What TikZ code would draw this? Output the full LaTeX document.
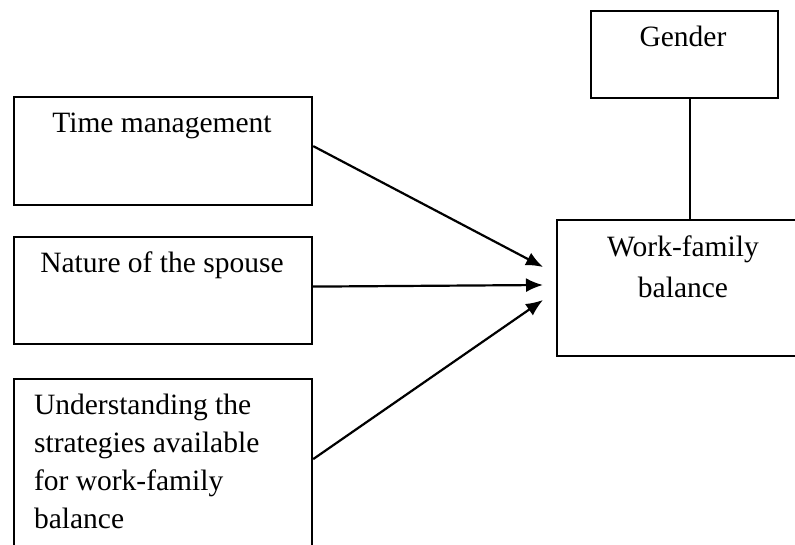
\documentclass[tikz,border=0pt]{standalone}
\usepackage{fontspec}
\setmainfont{Liberation Serif}
\usetikzlibrary{arrows.meta}

\begin{document}
\begin{tikzpicture}[x=1pt, y=-1pt, line width=2.2pt,
  box/.style={draw=black, rectangle, inner sep=0pt, anchor=north west},
  txt/.style={font=\fontsize{29.5}{38}\selectfont, inner sep=0pt, anchor=base},
  >={Latex[length=17pt,width=14pt]}]
\useasboundingbox (0,0) rectangle (795,545);
\clip (0,0) rectangle (795,545);
\node[box, minimum width=298, minimum height=108] (time) at (13,96) {};
\node[box, minimum width=298, minimum height=107] (spouse) at (13,236) {};
\node[box, minimum width=298, minimum height=190] (strat) at (13,378) {};
\node[box, minimum width=187, minimum height=87] (gender) at (590,10) {};
\node[box, minimum width=254, minimum height=136] (wfb) at (556,219) {};
\node[txt] (timetxt) at (162,133) {Time management};
\node[txt] (spousetxt) at (162,273) {Nature of the spouse};
\node[txt, anchor=base west, align=left] (strattxt) at (33,528) {Understanding the\\strategies available\\for work-family\\balance};
\node[txt] (gendertxt) at (683,47) {Gender};
\node[txt, align=center, font=\fontsize{29.5}{41}\selectfont] (wfbtxt) at (683,298) {Work-family\\balance};
\coordinate (in1) at (543,267);
\coordinate (in2) at (543,285);
\coordinate (in3) at (543,300);
\draw[->] ([yshift=5]time.east) -- (in1);
\draw[->] ([yshift=4]spouse.east) -- (in2);
\draw[->] ([yshift=15]strat.east) -- (in3);
\draw ([xshift=5]gender.south) -- ([xshift=5]gender.south |- wfb.north);
\end{tikzpicture}
\end{document}
